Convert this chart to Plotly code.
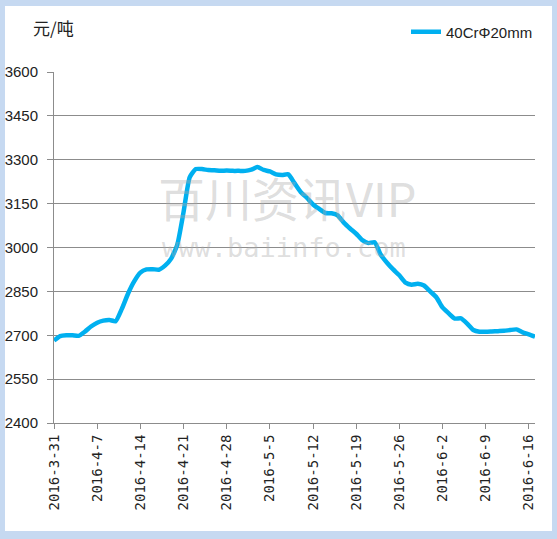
import plotly.graph_objects as go
import pandas as pd

series_name = "40CrΦ20mm"
start_date = "2016-03-31"
prices = [
    2682, 2697, 2700, 2700, 2698, 2712, 2730, 2743, 2750, 2752,
    2748, 2790, 2842, 2884, 2914, 2925, 2926, 2924, 2938, 2962,
    3010, 3120, 3240, 3268, 3268, 3265, 3264, 3262, 3263, 3262,
    3262, 3262, 3266, 3275, 3265, 3260, 3250, 3248, 3250, 3220,
    3190, 3170, 3147, 3132, 3118, 3117, 3110, 3085, 3065, 3047,
    3025, 3015, 3018, 2975, 2948, 2925, 2905, 2880, 2873, 2876,
    2870, 2850, 2830, 2795, 2775, 2757, 2758, 2740, 2718, 2712,
    2712, 2713, 2714, 2715, 2718, 2720, 2710, 2703, 2695,
]
dates = pd.date_range(start_date, periods=len(prices), freq="D")

tick_dates = ["2016-03-31", "2016-04-07", "2016-04-14", "2016-04-21", "2016-04-28",
              "2016-05-05", "2016-05-12", "2016-05-19", "2016-05-26", "2016-06-02",
              "2016-06-09", "2016-06-16"]
tick_labels = ["2016-3-31", "2016-4-7", "2016-4-14", "2016-4-21", "2016-4-28",
               "2016-5-5", "2016-5-12", "2016-5-19", "2016-5-26", "2016-6-2",
               "2016-6-9", "2016-6-16"]
y_ticks = [2400, 2550, 2700, 2850, 3000, 3150, 3300, 3450, 3600]
y_title = "元/吨"

W, H = 557, 539
ml, mr, mt, mb = 54, 22, 72, 116
pw, ph = W - ml - mr, H - mt - mb


def px_x(p):
    return (p - ml) / pw


def px_y(p):
    return (H - mb - p) / ph


sans = "Liberation Sans, Arial, sans-serif"

fig = go.Figure()
fig.add_trace(go.Scatter(
    x=dates, y=prices, mode="lines", name=series_name,
    line=dict(color="#00B0F0", width=4.5, shape="spline", smoothing=0.5),
))

fig.update_layout(
    width=W, height=H,
    margin=dict(l=ml, r=mr, t=mt, b=mb, autoexpand=False),
    paper_bgcolor="#C6D9F1",
    plot_bgcolor="white",
    showlegend=True,
    legend=dict(x=px_x(538), xanchor="right", y=px_y(32), yanchor="middle",
                bgcolor="rgba(0,0,0,0)", font=dict(family=sans, size=15, color="#222"),
                itemwidth=30, tracegroupgap=0),
    xaxis=dict(
        type="date", range=["2016-03-31", "2016-06-17"],
        tickvals=tick_dates, ticktext=tick_labels, tickangle=-90,
        ticks="outside", ticklen=5, tickcolor="#8c8c8c",
        showgrid=False, showline=True, linecolor="#8c8c8c", linewidth=1,
        tickfont=dict(family="DejaVu Sans Mono, monospace", size=14, color="#222"),
        zeroline=False,
    ),
    yaxis=dict(
        range=[2400, 3600], tickvals=y_ticks,
        ticks="outside", ticklen=6, tickcolor="#8c8c8c",
        showgrid=True, gridcolor="#8c8c8c", gridwidth=1,
        showline=True, linecolor="#8c8c8c", linewidth=1,
        tickfont=dict(family=sans, size=15, color="#222"),
        ticklabelstandoff=6, zeroline=False,
    ),
    shapes=[dict(type="rect", xref="paper", yref="paper",
                 x0=px_x(5), x1=px_x(552), y0=px_y(531), y1=px_y(6),
                 fillcolor="white", line=dict(width=0), layer="below")],
    annotations=[
        dict(text=y_title, xref="paper", yref="paper", x=px_x(53), y=px_y(27),
             xanchor="center", yanchor="middle", showarrow=False,
             font=dict(family="Noto Sans CJK SC", size=17, color="#222")),
        dict(text="百川资讯VIP", xref="paper", yref="paper", x=px_x(287), y=px_y(196),
             xanchor="center", yanchor="middle", showarrow=False,
             font=dict(family="Noto Sans CJK SC", size=47, color="rgba(170,170,170,0.4)")),
        dict(text="www.baiinfo.com", xref="paper", yref="paper", x=px_x(284), y=px_y(247),
             xanchor="center", yanchor="middle", showarrow=False,
             font=dict(family="DejaVu Sans Mono, monospace", size=27, color="rgba(170,170,170,0.4)")),
    ],
)

fig.write_html("out.html",
               config={"displayModeBar": False},
               post_script="document.body.style.margin='0';document.body.style.padding='0';"
                           "document.body.style.overflow='hidden';")
